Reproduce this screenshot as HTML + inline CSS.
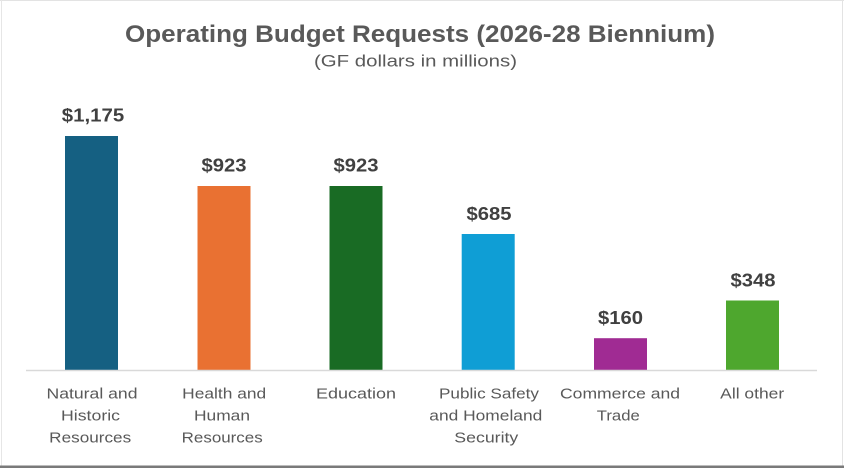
<!DOCTYPE html>
<html>
<head>
<meta charset="utf-8">
<style>
  html, body { margin: 0; padding: 0; background: #ffffff; }
  body { width: 844px; height: 468px; overflow: hidden; }
  svg { display: block; }
  text { font-family: "Liberation Sans", "DejaVu Sans", sans-serif; }
</style>
</head>
<body>
<svg width="844" height="468" viewBox="0 0 844 468" xmlns="http://www.w3.org/2000/svg">
  <rect x="0" y="0" width="844" height="468" fill="#ffffff"/>
  <!-- frame -->
  <line x1="0" y1="0.5" x2="844" y2="0.5" stroke="#e3e3e3" stroke-width="1"/>
  <line x1="1.5" y1="0" x2="1.5" y2="466" stroke="#e6e6e6" stroke-width="1"/>
  <line x1="842.5" y1="0" x2="842.5" y2="466" stroke="#e3e3e3" stroke-width="1"/>
  <rect x="0" y="465.5" width="844" height="2.5" fill="#7a7a7a"/>

  <!-- title -->
  <text x="420" y="42" text-anchor="middle" font-size="24" font-weight="bold" fill="#595959" textLength="590" lengthAdjust="spacingAndGlyphs">Operating Budget Requests (2026-28 Biennium)</text>
  <text x="415.5" y="66.5" text-anchor="middle" font-size="17" fill="#595959" textLength="203" lengthAdjust="spacingAndGlyphs">(GF dollars in millions)</text>

  <!-- bars -->
  <rect x="65" y="136" width="53" height="234" fill="#156082"/>
  <rect x="197.5" y="186" width="53" height="184" fill="#E97132"/>
  <rect x="329.5" y="186" width="53" height="184" fill="#196B24"/>
  <rect x="461.7" y="234" width="53" height="136" fill="#0F9ED5"/>
  <rect x="594" y="338.2" width="53" height="31.8" fill="#A02B93"/>
  <rect x="726" y="300.5" width="53" height="69.5" fill="#4EA72E"/>

  <!-- axis -->
  <line x1="26" y1="370.5" x2="817" y2="370.5" stroke="#d9d9d9" stroke-width="1.5"/>

  <!-- value labels -->
  <g font-size="18" font-weight="bold" fill="#404040" text-anchor="middle">
    <text x="93" y="121.5" textLength="62.5" lengthAdjust="spacingAndGlyphs">$1,175</text>
    <text x="224" y="171.5" textLength="45" lengthAdjust="spacingAndGlyphs">$923</text>
    <text x="356" y="171.5" textLength="45" lengthAdjust="spacingAndGlyphs">$923</text>
    <text x="489" y="220" textLength="45" lengthAdjust="spacingAndGlyphs">$685</text>
    <text x="620.5" y="324" textLength="45" lengthAdjust="spacingAndGlyphs">$160</text>
    <text x="753" y="286.5" textLength="45" lengthAdjust="spacingAndGlyphs">$348</text>
  </g>

  <!-- category labels -->
  <g font-size="15" fill="#595959" text-anchor="middle">
    <text x="92" y="398.5" textLength="91" lengthAdjust="spacingAndGlyphs">Natural and</text>
    <text x="90.5" y="420.5" textLength="59" lengthAdjust="spacingAndGlyphs">Historic</text>
    <text x="90.2" y="442.5" textLength="82" lengthAdjust="spacingAndGlyphs">Resources</text>

    <text x="224.2" y="398.5" textLength="84" lengthAdjust="spacingAndGlyphs">Health and</text>
    <text x="222" y="420.5" textLength="56" lengthAdjust="spacingAndGlyphs">Human</text>
    <text x="222.2" y="442.5" textLength="81" lengthAdjust="spacingAndGlyphs">Resources</text>

    <text x="356" y="398.5" textLength="80" lengthAdjust="spacingAndGlyphs">Education</text>

    <text x="489" y="398.5" textLength="100" lengthAdjust="spacingAndGlyphs">Public Safety</text>
    <text x="485.8" y="420.5" textLength="113" lengthAdjust="spacingAndGlyphs">and Homeland</text>
    <text x="486.3" y="442.5" textLength="64" lengthAdjust="spacingAndGlyphs">Security</text>

    <text x="620" y="398.5" textLength="120" lengthAdjust="spacingAndGlyphs">Commerce and</text>
    <text x="618.3" y="420.5" textLength="43" lengthAdjust="spacingAndGlyphs">Trade</text>

    <text x="752.2" y="398.5" textLength="64" lengthAdjust="spacingAndGlyphs">All other</text>
  </g>
</svg>
</body>
</html>
